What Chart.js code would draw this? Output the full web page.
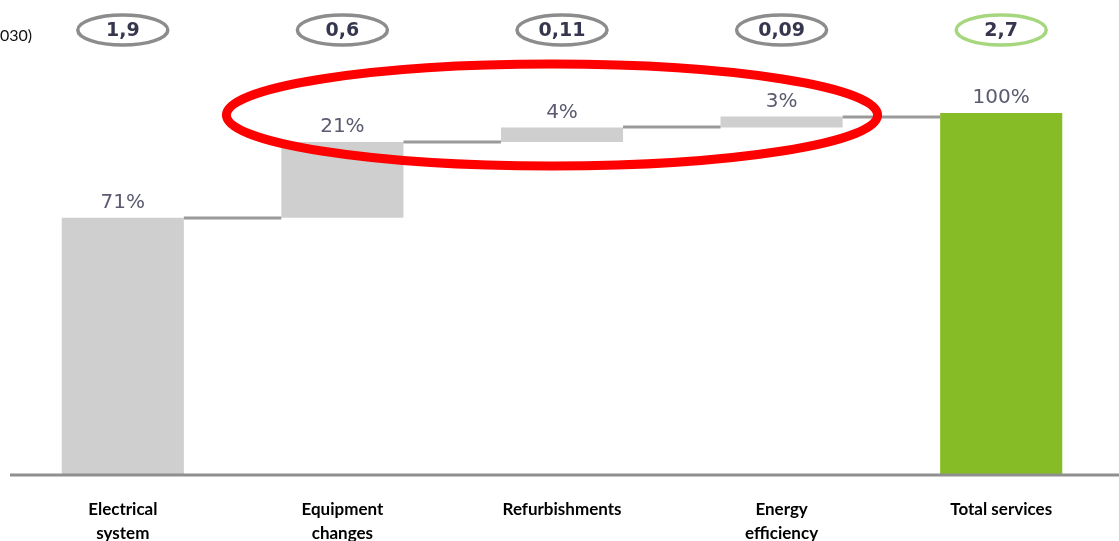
<!DOCTYPE html>
<html>
<head>
<meta charset="utf-8">
<script src="https://cdn.jsdelivr.net/npm/chart.js@4/dist/chart.umd.min.js"></script>
<style>
  body { margin: 0; background: #fff; }
  #wrap { position: relative; width: 1119px; height: 541px; }
</style>
</head>
<body>
<div id="wrap"><canvas id="waterfallChart"></canvas></div>
<script>
// waterfall: share of each service in the total
const categories = [['Electrical', 'system'], ['Equipment', 'changes'], 'Refurbishments', ['Energy', 'efficiency'], 'Total services'];
const shares = [71, 21, 4, 3, 100];
const amounts = ['1,9', '0,6', '0,11', '0,09', '2,7'];
const isTotal = [false, false, false, false, true];

// floating [start, end] pairs for the steps, totals start at zero
let running = 0;
const ranges = shares.map((v, i) => {
    if (isTotal[i]) return [0, v];
    const r = [running, running + v];
    running += v;
    return r;
});

const GREY = '#cfcfcf';
const GREEN = '#86bc25';

const waterfallExtras = {
    id: 'waterfallExtras',
    afterDatasetsDraw(chart) {
        const ctx = chart.ctx;
        const bars = chart.getDatasetMeta(0).data;
        const y = chart.scales.y;
        const area = chart.chartArea;

        ctx.save();

        // connector lines between steps
        ctx.strokeStyle = '#9a9a9a';
        ctx.lineWidth = 3;
        for (let i = 0; i < bars.length - 1; i++) {
            const a = bars[i], b = bars[i + 1];
            const py = Math.round(y.getPixelForValue(ranges[i][1]));
            ctx.beginPath();
            ctx.moveTo(a.x + a.width / 2, py);
            ctx.lineTo(b.x - b.width / 2, py);
            ctx.stroke();
        }

        // base line
        ctx.strokeStyle = '#8f8f8f';
        ctx.lineWidth = 3;
        ctx.beginPath();
        ctx.moveTo(10, area.bottom + 1);
        ctx.lineTo(chart.width, area.bottom + 1);
        ctx.stroke();

        // percentage labels above each bar
        ctx.font = '20px "DejaVu Sans"';
        ctx.fillStyle = '#5a5a70';
        ctx.textAlign = 'center';
        ctx.textBaseline = 'middle';
        bars.forEach((bar, i) => {
            const top = y.getPixelForValue(ranges[i][1]);
            ctx.fillText(shares[i] + '%', bar.x, top - 15);
        });

        // amounts in ovals along the top
        bars.forEach((bar, i) => {
            ctx.beginPath();
            ctx.ellipse(bar.x, 30, 45, 15, 0, 0, Math.PI * 2);
            ctx.lineWidth = 3.5;
            ctx.strokeStyle = isTotal[i] ? '#a6d77f' : '#8c8c8c';
            ctx.stroke();
            ctx.font = 'bold 19px "DejaVu Sans"';
            ctx.fillStyle = '#36364f';
            ctx.fillText(amounts[i], bar.x, 31);
        });

        // cut-off caption at the left edge
        ctx.font = '16px Lato';
        ctx.fillStyle = '#111';
        ctx.textAlign = 'left';
        ctx.fillText('030)', 0, 36);

        // red highlight round the small steps
        const cx = (bars[1].x + bars[3].x) / 2 - 10;
        const rx = (bars[3].x - bars[1].x) / 2 + 106;
        const cy = y.getPixelForValue(100) + 2;
        ctx.beginPath();
        ctx.ellipse(cx, cy, rx, 51, 0, 0, Math.PI * 2);
        ctx.lineWidth = 9;
        ctx.strokeStyle = '#ff0000';
        ctx.stroke();

        ctx.restore();
    }
};

new Chart(document.getElementById('waterfallChart').getContext('2d'), {
    type: 'bar',
    data: {
        labels: categories,
        datasets: [{
            data: ranges,
            backgroundColor: isTotal.map(t => t ? GREEN : GREY),
            borderWidth: 0,
            barPercentage: 0.556,
            categoryPercentage: 1
        }]
    },
    options: {
        responsive: true,
        maintainAspectRatio: false,
        animation: false,
        layout: { padding: { left: 13, right: 8, top: 113, bottom: 0 } },
        plugins: {
            legend: { display: false },
            tooltip: { enabled: false }
        },
        scales: {
            x: {
                grid: { display: false, drawTicks: false },
                border: { display: false },
                ticks: {
                    padding: 23,
                    color: '#000',
                    font: { family: 'Lato', weight: 'bold', size: 17, lineHeight: 1.45 },
                    maxRotation: 0,
                    autoSkip: false
                },
                afterFit(scale) { scale.height = 67; }
            },
            y: {
                display: false,
                min: 0,
                max: 100
            }
        }
    },
    plugins: [waterfallExtras]
});
</script>
</body>
</html>
